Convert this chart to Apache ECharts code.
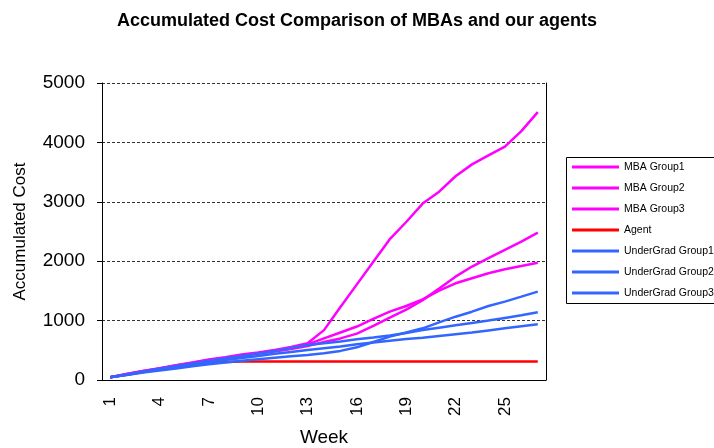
<!DOCTYPE html>
<html>
<head>
<meta charset="utf-8">
<script src="https://cdn.jsdelivr.net/npm/echarts@6/dist/echarts.min.js"></script>
<style>
  html, body { margin: 0; padding: 0; background: #fff; }
  #chart { width: 714px; height: 448px; }
</style>
</head>
<body>
<div id="chart"></div>
<script>
// weeks 1..27
var weeks = [];
for (var w = 1; w <= 27; w++) weeks.push(String(w));

// accumulated cost per week
var mbaGroup1 = [45, 100, 150, 200, 250, 295, 345, 385, 430, 465, 505, 555, 620, 840, 1230, 1610, 1990, 2370, 2660, 2970, 3170, 3430, 3630, 3780, 3930, 4190, 4510];
var mbaGroup2 = [45, 95, 145, 190, 240, 280, 325, 365, 410, 440, 480, 520, 570, 640, 700, 780, 910, 1050, 1185, 1345, 1540, 1740, 1910, 2050, 2190, 2330, 2480];
var mbaGroup3 = [45, 100, 150, 195, 245, 290, 335, 375, 420, 455, 495, 540, 600, 700, 800, 900, 1030, 1150, 1246, 1358, 1504, 1628, 1712, 1796, 1864, 1919, 1975];
var agent = [45, 90, 135, 180, 220, 255, 285, 305, 310, 310, 310, 310, 310, 310, 310, 310, 310, 310, 310, 310, 310, 310, 310, 310, 310, 310, 310];
var ugGroup1 = [45, 85, 125, 160, 195, 230, 265, 295, 325, 350, 375, 400, 421, 450, 490, 550, 640, 730, 800, 870, 970, 1066, 1150, 1246, 1320, 1403, 1487];
var ugGroup2 = [45, 95, 145, 190, 235, 280, 325, 365, 405, 445, 490, 540, 590, 620, 650, 685, 715, 750, 790, 840, 880, 920, 960, 1000, 1045, 1090, 1139];
var ugGroup3 = [45, 90, 135, 180, 220, 260, 295, 335, 370, 405, 440, 470, 505, 535, 565, 600, 630, 660, 690, 710, 740, 770, 800, 835, 870, 905, 937];

var seriesNames = ["MBA Group1", "MBA Group2", "MBA Group3", "Agent", "UnderGrad Group1", "UnderGrad Group2", "UnderGrad Group3"];
var seriesData = [mbaGroup1, mbaGroup2, mbaGroup3, agent, ugGroup1, ugGroup2, ugGroup3];
var seriesColors = ["#FF00FF", "#FF00FF", "#FF00FF", "#FF0000", "#3366FF", "#3366FF", "#3366FF"];

var font = "Liberation Sans, Arial, sans-serif";

var option = {
  animation: false,
  title: {
    text: "Accumulated Cost Comparison of MBAs and our agents",
    left: "center",
    top: 7,
    textStyle: { fontFamily: font, fontSize: 18, fontWeight: "bold", color: "#000" }
  },
  // legend frame runs off the right edge, like the original
  graphic: [
    {
      type: "rect",
      shape: { x: 566.5, y: 157.5, width: 170, height: 146 },
      style: { fill: "none", stroke: "#000", lineWidth: 1 },
      silent: true
    }
  ],
  legend: {
    orient: "vertical",
    left: 566,
    top: 155,
    padding: [6, 8, 6, 6],
    icon: "rect",
    itemWidth: 47,
    itemHeight: 3,
    itemGap: 9,
    textStyle: { fontFamily: font, fontSize: 10.5, lineHeight: 12, color: "#000" },
    data: seriesNames
  },
  grid: {
    left: 102,
    right: 168,
    top: 83,
    bottom: 68,
    outerBoundsMode: "none"
  },
  xAxis: {
    type: "category",
    data: weeks,
    boundaryGap: true,
    name: "Week",
    nameLocation: "middle",
    nameGap: 48,
    nameTextStyle: { fontFamily: font, fontSize: 19, color: "#000" },
    axisLine: { lineStyle: { color: "#000", width: 1 } },
    axisTick: { interval: 0, length: 6, lineStyle: { color: "#000" } },
    axisLabel: {
      interval: 2,
      rotate: 90,
      margin: 17,
      fontFamily: font,
      fontSize: 17,
      color: "#000"
    }
  },
  yAxis: [
    {
      type: "value",
      min: 0,
      max: 5000,
      interval: 1000,
      name: "Accumulated Cost",
      nameLocation: "middle",
      nameGap: 73,
      nameTextStyle: { fontFamily: font, fontSize: 17, color: "#000" },
      axisLine: { show: true, lineStyle: { color: "#000", width: 1 } },
      axisTick: { show: true, length: 5, lineStyle: { color: "#000" } },
      axisLabel: {
        margin: 17,
        fontFamily: font,
        fontSize: 19,
        color: "#000",
        formatter: function (v) { return String(v); }
      },
      splitLine: {
        show: true,
        lineStyle: { color: "#333", width: 1, type: [3, 2] }
      }
    },
    {
      type: "value",
      position: "right",
      min: 0,
      max: 5000,
      interval: 1000,
      axisLine: { show: true, lineStyle: { color: "#000", width: 1 } },
      axisTick: { show: false },
      axisLabel: { show: false },
      splitLine: { show: false }
    }
  ],
  series: seriesNames.map(function (name, i) {
    return {
      name: name,
      type: "line",
      data: seriesData[i],
      symbol: "none",
      color: seriesColors[i],
      lineStyle: { width: 2.5, color: seriesColors[i] }
    };
  })
};

var chart = echarts.init(document.getElementById("chart"));
chart.setOption(option);
</script>
</body>
</html>
